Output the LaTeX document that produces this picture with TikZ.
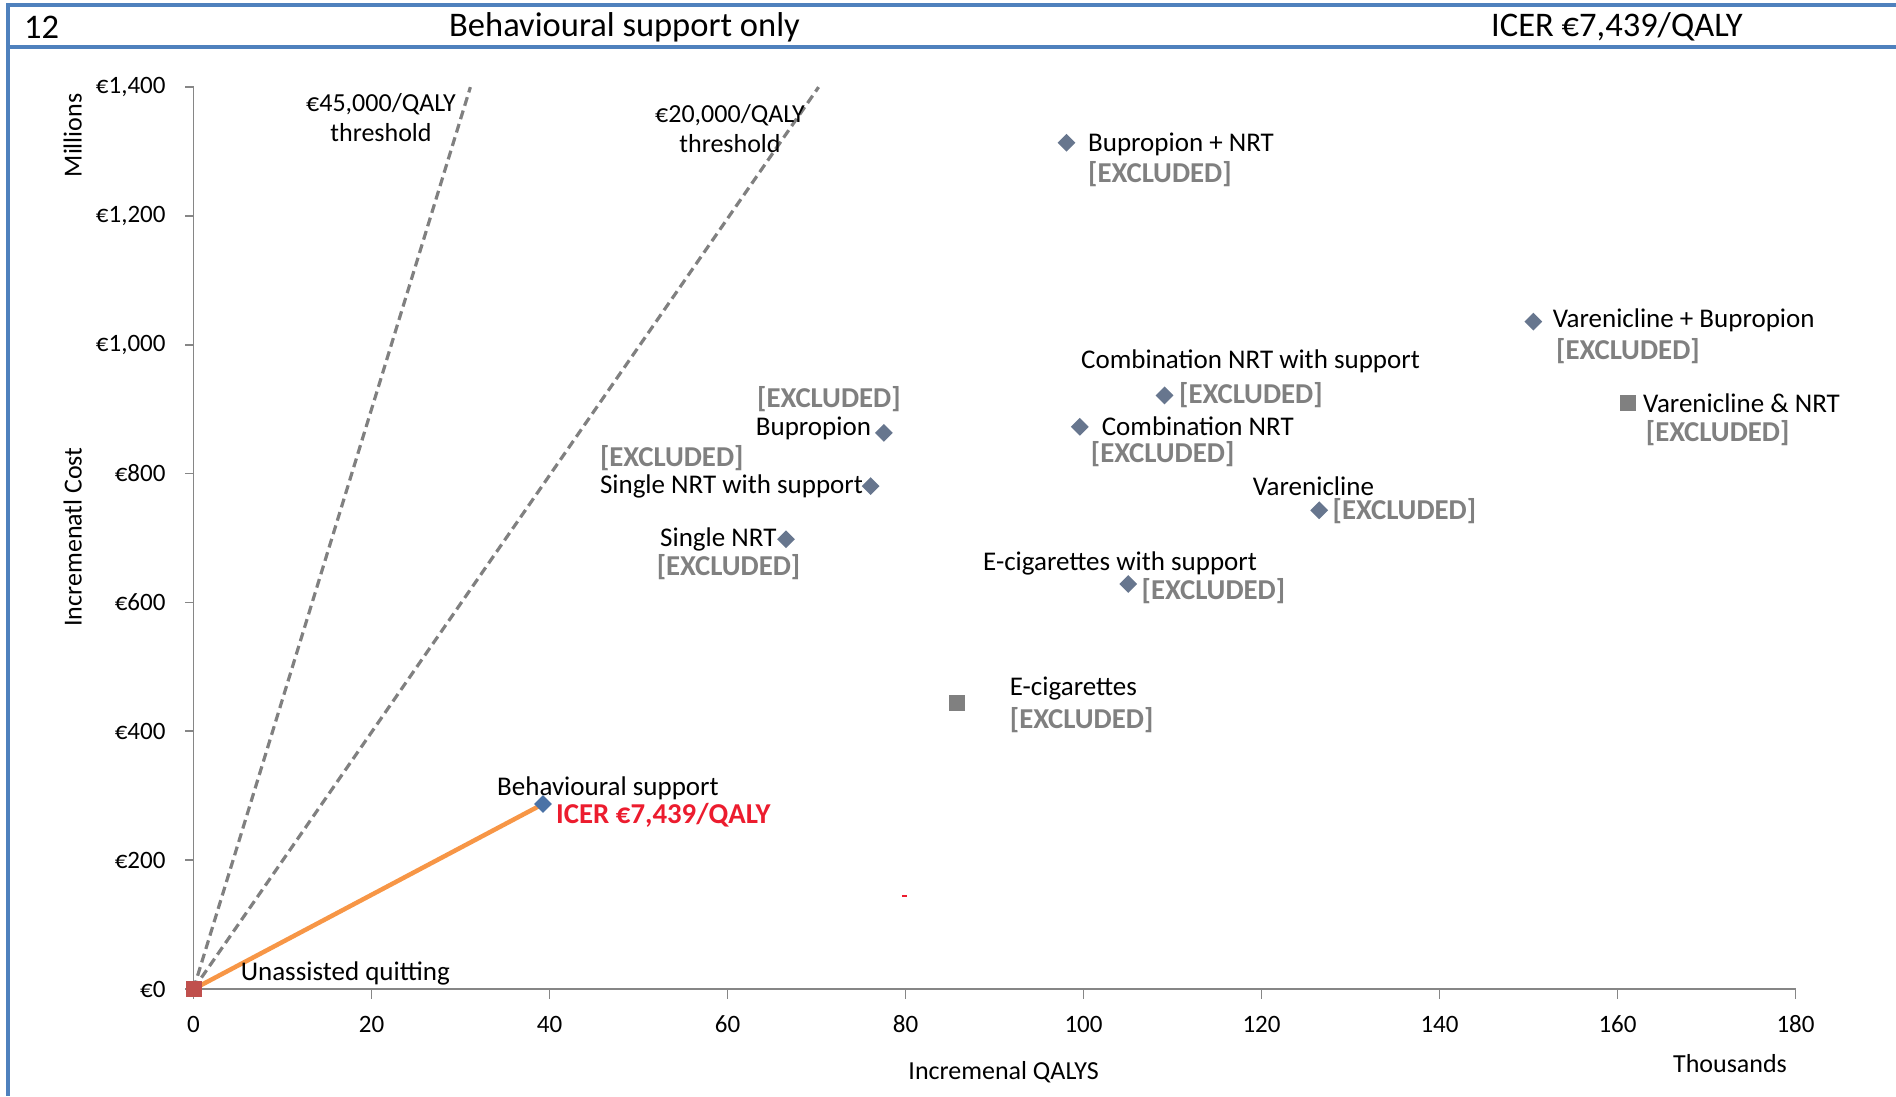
\documentclass[tikz,border=0pt]{standalone}
\usepackage{fontspec}
\setmainfont{Carlito}
\usetikzlibrary{shapes.geometric}
\pgfdeclarelayer{bg}
\pgfsetlayers{bg,main}
\definecolor{frameblue}{RGB}{79,129,189}
\definecolor{axisgray}{RGB}{134,134,134}
\definecolor{dashgray}{RGB}{128,128,128}
\definecolor{exgray}{RGB}{128,128,128}
\definecolor{markblue}{RGB}{74,114,166}
\definecolor{markslate}{RGB}{103,118,142}
\definecolor{sqgray}{RGB}{128,128,128}
\definecolor{sqred}{RGB}{192,80,77}
\definecolor{icerred}{RGB}{236,28,46}
\definecolor{lineorange}{RGB}{247,150,70}
\tikzset{
  lbl/.style={font=\fontsize{27}{31.5}\selectfont, inner sep=0pt, anchor=west, text=black, yshift=-2.5pt},
  excl/.style={font=\fontsize{28.8}{31.5}\selectfont\bfseries, inner sep=0pt, anchor=west, text=exgray, yshift=-2.5pt},
  icer/.style={font=\fontsize{28.8}{31.5}\selectfont\bfseries, inner sep=0pt, anchor=west, text=icerred, yshift=-2.5pt},
  ticklbl/.style={font=\fontsize{25}{30}\selectfont, inner sep=0pt, text=black},
  axlbl/.style={font=\fontsize{26}{30}\selectfont, inner sep=0pt, anchor=center, text=black},
  ttl/.style={font=\fontsize{34.5}{40}\selectfont, inner sep=0pt, anchor=west, text=black},
  dmd/.style={diamond, fill=markslate, minimum width=18pt, minimum height=18pt, inner sep=0pt},
  sqr/.style={rectangle, fill=sqgray, minimum size=16pt, inner sep=0pt},
  frameline/.style={draw=frameblue, line width=3.5pt},
  axisline/.style={draw=axisgray, line width=1.8pt},
  thresh/.style={draw=dashgray, line width=3.2pt, dash pattern=on 9pt off 5pt},
  orangeline/.style={draw=lineorange, line width=4.5pt}
}
\begin{document}
\begin{tikzpicture}[x=1pt, y=-1pt]
\useasboundingbox (0,0) rectangle (1896,1096);
% frame
\draw[frameline] (8,5) -- (1896,5);
\draw[frameline] (8,47) -- (1896,47);
\draw[frameline] (8,3.25) -- (8,1096);
% title row
\node[ttl] (num) at (24,27) {12};
\node[ttl] (title) at (449,27) {Behavioural support only};
\node[ttl] (titleicer) at (1491,27) {ICER €7,439/QALY};
% axes
\coordinate (origin) at (193.5,989.1);
\coordinate (ytop) at (193.5,86.8);
\coordinate (xend) at (1795.5,989.1);
\draw[axisline] (ytop) -- (origin) -- (xend);
\foreach \k/\v in {0/€0,1/€200,2/€400,3/€600,4/€800,5/€1{,}000,6/€1{,}200,7/€1{,}400}{
  \draw[axisline] (185,989.1-\k*128.9) -- (193.5,989.1-\k*128.9);
  \node[ticklbl, anchor=east] (ytick\k) at (165.7,989.1-\k*128.9) {\v};
}
\foreach \k/\v in {0/0,1/20,2/40,3/60,4/80,5/100,6/120,7/140,8/160,9/180}{
  \draw[axisline] (193.5+\k*178,989.1) -- (193.5+\k*178,999);
  \node[ticklbl, anchor=center] (xtick\k) at (193.5+\k*178,1024) {\v};
}
\node[axlbl, rotate=90] (millions) at (72.6,135.4) {Millions};
\node[axlbl, rotate=90] (ylabel) at (72.6,537) {Incremenatl Cost};
\node[axlbl] (xlabel) at (1003.6,1072.6) {Incremenal QALYS};
\node[axlbl] (thousands) at (1730,1064) {Thousands};
% threshold labels
\node[axlbl, align=center] (t45lbl) at (381,118) {€45,000/QALY\\threshold};
\node[axlbl, align=center] (t20lbl) at (730,129) {€20,000/QALY\\threshold};
\coordinate (t45) at (470.4,87.1);
\coordinate (t20) at (818.6,87.1);
% markers
\node[sqr, fill=sqred] (uq) at (193.5,989.1) {};
\node[dmd, fill=markblue] (bs) at (543,804) {};
\node[dmd] (bupnrt) at (1066.5,142.7) {};
\node[dmd] (varbup) at (1533.3,321.6) {};
\node[sqr] (varnrt) at (1627.6,402.7) {};
\node[dmd] (combsup) at (1164.5,395.4) {};
\node[dmd] (comb) at (1079.8,426.8) {};
\node[dmd] (var) at (1319.2,510.3) {};
\node[dmd] (ecigsup) at (1128.2,584) {};
\node[sqr] (ecig) at (956.5,702.5) {};
\node[dmd] (bup) at (883.9,432.9) {};
\node[dmd] (snrtsup) at (870.6,486.1) {};
\node[dmd] (snrt) at (786,539.3) {};
% connectors
\begin{pgfonlayer}{bg}
\draw[thresh] (uq.center) -- (t45);
\draw[thresh] (uq.center) -- (t20);
\draw[orangeline] (uq.center) -- (bs.center);
\end{pgfonlayer}
% labels
\node[lbl] (bupnrtL) at (1088,141.5) {Bupropion + NRT};
\node[excl] (bupnrtX) at (1088,171.7) {[EXCLUDED]};
\node[lbl] (varbupL) at (1552.6,318) {Varenicline + Bupropion};
\node[excl] (varbupX) at (1556,349) {[EXCLUDED]};
\node[lbl] (varnrtL) at (1643,400.5) {Varenicline \& NRT};
\node[excl] (varnrtX) at (1645.7,430.5) {[EXCLUDED]};
\node[lbl] (combsupL) at (1081,359) {Combination NRT with support};
\node[excl] (combsupX) at (1179,393) {[EXCLUDED]};
\node[lbl] (combL) at (1101.6,424) {Combination NRT};
\node[excl] (combX) at (1090.7,451.5) {[EXCLUDED]};
\node[lbl] (varL) at (1252.7,483.7) {Varenicline};
\node[excl] (varX) at (1332.5,509) {[EXCLUDED]};
\node[lbl] (ecigsupL) at (983,561) {E-cigarettes with support};
\node[excl] (ecigsupX) at (1141.5,589) {[EXCLUDED]};
\node[lbl] (ecigL) at (1009.7,685.6) {E-cigarettes};
\node[excl] (ecigX) at (1009.7,718) {[EXCLUDED]};
\node[excl] (bupX) at (757,396.6) {[EXCLUDED]};
\node[lbl] (bupL) at (755.7,425.6) {Bupropion};
\node[excl] (snrtsupX) at (599.8,455.9) {[EXCLUDED]};
\node[lbl] (snrtsupL) at (599.8,483.7) {Single NRT with support};
\node[lbl] (snrtL) at (660,537) {Single NRT};
\node[excl] (snrtX) at (656.6,564.7) {[EXCLUDED]};
\node[lbl] (bsL) at (497,786) {Behavioural support};
\node[icer] (bsI) at (556,812.6) {ICER €7,439/QALY};
\node[lbl] (uqL) at (240.6,971) {Unassisted quitting};
% stray mark
\draw[icerred, line width=2pt] (902,896) -- (907,896);
\end{tikzpicture}
\end{document}
